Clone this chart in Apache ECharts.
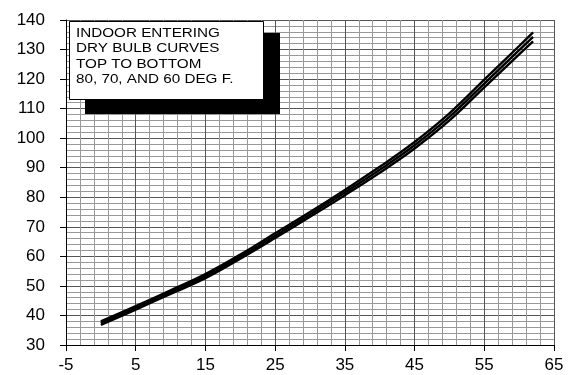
<!DOCTYPE html>
<html>
<head>
<meta charset="utf-8">
<script src="https://cdn.jsdelivr.net/npm/echarts@6/dist/echarts.min.js"></script>
<style>
  html, body { margin: 0; padding: 0; background: #fff; }
  #main { width: 577px; height: 375px; }
</style>
</head>
<body>
<div id="main"></div>
<script>
// outdoor temp (x) and curve values for indoor dry bulb 80 / 70 / 60 F
const outdoorTemp = [0, 5, 10, 15, 20, 25, 30, 35, 40, 45, 50, 55, 60, 62];
const db80 = [38.0, 43.2, 48.5, 54.0, 60.6, 67.8, 75.0, 82.5, 90.3, 98.7, 108.4, 119.8, 131.2, 135.8];
const db70 = [37.4, 42.6, 47.9, 53.3, 59.9, 67.0, 74.2, 81.6, 89.3, 97.6, 107.2, 118.5, 129.8, 134.3];
const db60 = [36.8, 42.0, 47.3, 52.6, 59.2, 66.2, 73.4, 80.7, 88.3, 96.5, 106.0, 117.2, 128.4, 132.8];
const noteLines = ['INDOOR ENTERING', 'DRY BULB CURVES', 'TOP TO BOTTOM', '80, 70, AND 60 DEG F.'];

const pair = (ys) => outdoorTemp.map((x, i) => [x, ys[i]]);

let myChart = echarts.init(document.getElementById('main'));

const labelStyle = {
  color: '#000',
  fontFamily: 'Liberation Sans, Arial, sans-serif',
  fontSize: 17
};

myChart.setOption({
  animation: false,
  grid: { left: 66, right: 23, top: 20, bottom: 30 },
  xAxis: {
    type: 'value',
    min: -5,
    max: 65,
    interval: 10,
    axisLine: { show: true, onZero: false, lineStyle: { color: '#000', width: 1 } },
    axisTick: { show: true, length: 6, lineStyle: { color: '#000' } },
    axisLabel: Object.assign({ margin: 12 }, labelStyle),
    splitLine: { show: true, lineStyle: { color: '#555', width: 1 } },
    minorTick: { show: false, splitNumber: 5 },
    minorSplitLine: { show: true, lineStyle: { color: '#999', width: 1 } }
  },
  yAxis: {
    type: 'value',
    min: 30,
    max: 140,
    interval: 10,
    axisLine: { show: true, onZero: false, lineStyle: { color: '#000', width: 1 } },
    axisTick: { show: true, length: 6, lineStyle: { color: '#000' } },
    axisLabel: Object.assign({ margin: 21 }, labelStyle),
    splitLine: { show: true, lineStyle: { color: '#555', width: 1 } },
    minorTick: { show: false, splitNumber: 5 },
    minorSplitLine: { show: true, lineStyle: { color: '#999', width: 1 } }
  },
  series: [db80, db70, db60].map(ys => ({
    type: 'line',
    data: pair(ys),
    smooth: 0.4,
    showSymbol: false,
    lineStyle: { color: '#000', width: 2.4 },
    z: 3
  })),
  graphic: [
    { type: 'rect', left: 85, top: 33, z: 10,
      shape: { width: 195, height: 81 }, style: { fill: '#000' } },
    { type: 'rect', left: 69, top: 21, z: 11,
      shape: { width: 194, height: 78 }, style: { fill: '#fff', stroke: '#000', lineWidth: 1 } },
    { type: 'text', left: 76, top: 26, z: 12, scaleX: 1.27, originX: 0, originY: 0,
      style: {
        text: noteLines.join('\n'),
        fill: '#000',
        font: '12px "Liberation Sans", Arial, sans-serif',
        lineHeight: 15.3
      } }
  ]
});

window.onresize = function () {
  myChart.resize();
};
</script>
</body>
</html>
